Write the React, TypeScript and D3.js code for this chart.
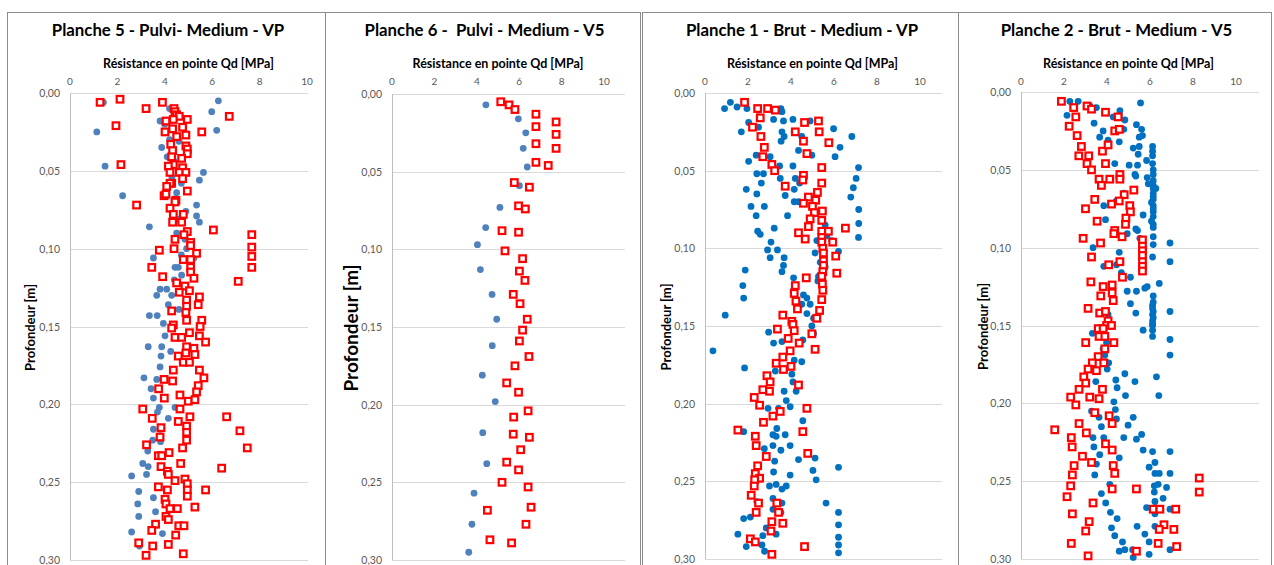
import * as d3 from 'd3';

// [Qd MPa, depth m]
const p5Blue: [number, number][] = [
  [1.41, 0.006], [6.26, 0.005], [5.98, 0.012], [1.13, 0.025], [6.19, 0.024], [3.8, 0.018], [3.87, 0.035],
  [1.48, 0.047], [5.63, 0.051], [5.46, 0.056], [2.22, 0.066], [5.34, 0.072], [5.34, 0.079], [5.46, 0.083],
  [3.35, 0.086], [4.5, 0.064], [4.89, 0.076], [4.92, 0.1], [3.52, 0.106], [4.43, 0.112], [4.57, 0.112],
  [4.71, 0.117], [3.8, 0.126], [4.08, 0.126], [3.66, 0.13], [4.29, 0.13], [4.15, 0.136], [3.35, 0.143],
  [3.68, 0.143], [3.94, 0.148], [5.23, 0.106], [4.85, 0.094], [4.2, 0.03], [4.6, 0.031], [4.1, 0.041],
  [4.4, 0.044], [4.3, 0.054], [4.7, 0.058], [4.4, 0.068], [4.6, 0.081], [4.5, 0.09], [4.7, 0.104],
  [4.4, 0.12], [4.6, 0.139], [4.2, 0.01], [4.5, 0.014], [4.0, 0.02],
  [4.01, 0.156], [3.3, 0.163], [3.87, 0.163], [4.25, 0.166], [3.84, 0.169], [3.8, 0.176], [3.12, 0.183],
  [3.66, 0.184], [3.42, 0.19], [3.52, 0.196], [3.77, 0.202], [3.69, 0.205], [4.43, 0.202], [4.15, 0.209],
  [3.52, 0.216], [3.8, 0.216], [3.49, 0.223], [3.82, 0.224], [3.28, 0.23], [3.07, 0.238], [3.3, 0.24],
  [2.6, 0.246], [3.23, 0.245], [2.9, 0.256], [3.52, 0.26], [2.86, 0.264], [3.61, 0.269], [2.9, 0.272],
  [2.6, 0.282], [3.9, 0.283], [2.93, 0.291], [3.23, 0.297],
];

const p5Red: [number, number][] = [
  [1.27, 0.006], [2.11, 0.004], [3.21, 0.01], [3.9, 0.006], [4.39, 0.01], [4.43, 0.012], [4.5, 0.014],
  [4.61, 0.015], [4.36, 0.017], [4.95, 0.017], [4.05, 0.018], [6.72, 0.015], [1.94, 0.021], [4.33, 0.023],
  [4.75, 0.022], [5.56, 0.025], [4.01, 0.025], [4.89, 0.027], [4.5, 0.028], [4.25, 0.033], [4.89, 0.034],
  [4.95, 0.036], [4.95, 0.039], [4.33, 0.037], [4.29, 0.041], [4.71, 0.042], [4.36, 0.046], [4.75, 0.048],
  [4.15, 0.047], [2.15, 0.046], [4.22, 0.051], [4.61, 0.051], [4.89, 0.051], [4.75, 0.055], [4.29, 0.058],
  [4.22, 0.058], [4.08, 0.06], [4.95, 0.063], [3.97, 0.066], [4.05, 0.065], [2.81, 0.072], [4.47, 0.069],
  [4.43, 0.07], [4.22, 0.074], [4.36, 0.078], [4.78, 0.078], [4.33, 0.083], [4.71, 0.083], [6.05, 0.088],
  [4.95, 0.089], [4.81, 0.091], [4.43, 0.094], [5.09, 0.096], [5.09, 0.098], [7.67, 0.091], [7.67, 0.099],
  [7.67, 0.105], [7.67, 0.112], [3.77, 0.101], [4.39, 0.1], [5.34, 0.103], [4.78, 0.107], [5.09, 0.107],
  [5.09, 0.112], [3.45, 0.112], [5.09, 0.115], [5.23, 0.119], [3.91, 0.118], [7.1, 0.121], [4.5, 0.122],
  [4.85, 0.124], [4.61, 0.128], [5.04, 0.127], [5.46, 0.131], [4.92, 0.133], [5.41, 0.136], [4.92, 0.137],
  [4.29, 0.14], [4.89, 0.141], [4.92, 0.146], [5.56, 0.146], [4.36, 0.149],
  [4.29, 0.151], [5.49, 0.15], [5.04, 0.154], [5.46, 0.156], [4.43, 0.157], [4.71, 0.157], [5.72, 0.16],
  [4.92, 0.163], [5.23, 0.164], [4.89, 0.167], [5.27, 0.168], [4.57, 0.169], [4.78, 0.173], [5.04, 0.173],
  [4.36, 0.178], [5.46, 0.178], [3.97, 0.184], [4.33, 0.185], [5.65, 0.183], [5.41, 0.188], [3.74, 0.19],
  [5.34, 0.192], [4.64, 0.194], [3.98, 0.196], [4.99, 0.198], [5.27, 0.197], [3.07, 0.203], [4.64, 0.203],
  [3.47, 0.209], [5.06, 0.208], [6.61, 0.208], [4.57, 0.211], [4.92, 0.214], [3.84, 0.215], [7.17, 0.217],
  [4.92, 0.218], [3.8, 0.221], [4.92, 0.223], [3.23, 0.226], [4.75, 0.228], [7.48, 0.228], [3.73, 0.233],
  [4.18, 0.231], [3.87, 0.233], [4.67, 0.238], [3.84, 0.24], [6.4, 0.241], [4.11, 0.243], [4.15, 0.245],
  [4.43, 0.249], [4.85, 0.248], [4.95, 0.251], [3.73, 0.253], [4.11, 0.255], [4.95, 0.255], [5.72, 0.255],
  [4.95, 0.259], [4.01, 0.261], [4.05, 0.264], [4.22, 0.267], [4.53, 0.267], [5.27, 0.266], [4.05, 0.272],
  [4.15, 0.274], [4.59, 0.278], [4.81, 0.278], [3.61, 0.277], [3.45, 0.281], [4.46, 0.284], [2.9, 0.289],
  [3.49, 0.291], [4.15, 0.29], [3.21, 0.297], [4.78, 0.296],
];

const p6Blue: [number, number][] = [
  [4.43, 0.007], [5.96, 0.016], [6.31, 0.025], [6.19, 0.035], [6.38, 0.047], [6.01, 0.059], [5.09, 0.073],
  [4.42, 0.086], [4.03, 0.097], [4.17, 0.113], [4.72, 0.129], [4.94, 0.145], [4.73, 0.162], [4.26, 0.181],
  [4.87, 0.198], [4.28, 0.218], [4.47, 0.238], [3.87, 0.257], [3.77, 0.277], [3.62, 0.295],
];

const p6Red: [number, number][] = [
  [5.13, 0.005], [5.52, 0.007], [5.8, 0.01], [6.79, 0.013], [7.74, 0.018], [6.79, 0.021], [7.74, 0.026],
  [6.79, 0.032], [7.74, 0.035], [6.79, 0.044], [7.37, 0.046], [5.77, 0.057], [6.48, 0.06], [5.97, 0.072],
  [6.29, 0.074], [5.19, 0.088], [5.97, 0.089], [5.33, 0.101], [6.16, 0.106], [6.01, 0.114], [6.27, 0.12],
  [5.72, 0.129], [6.04, 0.135], [6.38, 0.145], [6.16, 0.152], [6.01, 0.159], [6.46, 0.169], [5.8, 0.175],
  [5.41, 0.186], [5.97, 0.192], [6.42, 0.204], [5.74, 0.208], [5.72, 0.219], [6.48, 0.221], [6.07, 0.229],
  [5.41, 0.237], [5.97, 0.242], [5.19, 0.25], [6.42, 0.253], [6.56, 0.266], [4.5, 0.268], [6.32, 0.277],
  [4.62, 0.287], [5.64, 0.289],
];

const p1Blue: [number, number][] = [
  [0.91, 0.01], [1.18, 0.006], [1.49, 0.009], [1.95, 0.01], [2.49, 0.011], [2.96, 0.01], [3.53, 0.01],
  [3.58, 0.012], [3.19, 0.017], [3.65, 0.018], [4.09, 0.017], [4.89, 0.018], [2.03, 0.019], [2.49, 0.022],
  [1.69, 0.025], [3.58, 0.025], [4.15, 0.025], [5.98, 0.023], [3.68, 0.028], [3.54, 0.031], [4.5, 0.028],
  [6.83, 0.028], [6.28, 0.035], [4.35, 0.037], [4.97, 0.04], [6.05, 0.041], [2.38, 0.04], [3.03, 0.041],
  [2.03, 0.044], [3.47, 0.047], [4.09, 0.047], [2.41, 0.052], [2.72, 0.052], [3.5, 0.055], [2.62, 0.058],
  [4.2, 0.055], [4.4, 0.058], [7.14, 0.048], [7.03, 0.055], [6.9, 0.061], [1.92, 0.062], [2.41, 0.065],
  [3.73, 0.066], [4.15, 0.062], [6.78, 0.067], [4.15, 0.07], [4.35, 0.07], [2.14, 0.073], [2.76, 0.073],
  [7.15, 0.075], [2.38, 0.079], [3.84, 0.079], [7.15, 0.084], [3.22, 0.087], [2.45, 0.089], [2.57, 0.091],
  [3.07, 0.096], [7.14, 0.093], [5.2, 0.095], [5.59, 0.085], [2.91, 0.101], [3.37, 0.101], [3.03, 0.106],
  [3.68, 0.106], [3.65, 0.111], [3.58, 0.115], [1.87, 0.114], [6.21, 0.102], [5.9, 0.095], [4.12, 0.119],
  [5.25, 0.121], [1.76, 0.124], [1.8, 0.132], [0.94, 0.143], [3.62, 0.143], [4.12, 0.127], [4.58, 0.13],
  [4.74, 0.132], [4.89, 0.136], [4.5, 0.136], [4.74, 0.142], [5.05, 0.145], [5.59, 0.112], [5.36, 0.109],
  [5.28, 0.118], [5.12, 0.103], [5.48, 0.097], [5.67, 0.092],
  [0.37, 0.166], [1.84, 0.177], [2.96, 0.154], [3.19, 0.161], [3.58, 0.16], [4.55, 0.159], [4.97, 0.15],
  [5.05, 0.155], [4.5, 0.173], [4.15, 0.172], [3.27, 0.179], [4.04, 0.181], [4.09, 0.186], [3.68, 0.192],
  [4.24, 0.192], [3.78, 0.198], [3.96, 0.202], [2.93, 0.203], [3.42, 0.203], [4.55, 0.211], [3.34, 0.216],
  [1.8, 0.218], [3.73, 0.22], [3.16, 0.22], [3.31, 0.221], [3.96, 0.227], [3.16, 0.227], [2.76, 0.229],
  [3.53, 0.23], [3.24, 0.237], [4.35, 0.236], [5.12, 0.235], [6.21, 0.241], [3.19, 0.244], [3.96, 0.246],
  [5.02, 0.243], [5.17, 0.249], [3.0, 0.253], [3.31, 0.252], [3.58, 0.255], [3.78, 0.253], [3.16, 0.261],
  [5.63, 0.264], [2.41, 0.263], [6.21, 0.27], [2.11, 0.273], [1.8, 0.274], [2.85, 0.28], [3.31, 0.284],
  [6.21, 0.278], [1.53, 0.284], [2.69, 0.285], [6.21, 0.286], [1.92, 0.292], [2.65, 0.291], [6.21, 0.291],
  [2.77, 0.295], [6.21, 0.296], [3.53, 0.27], [3.16, 0.268], [3.58, 0.264],
];

const p1Red: [number, number][] = [
  [1.84, 0.006], [2.45, 0.01], [2.57, 0.016], [2.91, 0.01], [3.27, 0.011], [2.21, 0.022], [2.6, 0.028],
  [2.76, 0.035], [2.69, 0.041], [3.11, 0.046], [3.24, 0.05], [3.73, 0.06], [4.63, 0.019], [5.28, 0.018],
  [4.2, 0.025], [5.31, 0.025], [4.58, 0.031], [5.76, 0.032], [4.74, 0.039], [5.43, 0.048], [4.58, 0.053],
  [4.55, 0.056], [5.43, 0.058], [5.23, 0.064], [4.81, 0.067], [5.15, 0.069], [4.58, 0.071], [5.0, 0.073],
  [5.09, 0.077], [5.46, 0.076], [4.89, 0.081], [4.81, 0.086], [5.43, 0.082], [4.35, 0.09], [4.66, 0.094],
  [5.43, 0.089], [5.74, 0.089], [6.53, 0.087], [5.94, 0.096], [5.43, 0.093], [5.43, 0.096], [5.48, 0.1],
  [5.51, 0.103], [6.08, 0.105], [5.51, 0.108], [5.51, 0.111], [5.48, 0.115], [6.13, 0.116], [5.43, 0.118],
  [4.71, 0.119], [5.46, 0.123], [4.2, 0.124], [5.48, 0.127], [4.15, 0.129], [5.43, 0.133], [4.23, 0.134],
  [4.3, 0.139], [5.33, 0.14], [3.62, 0.143], [5.2, 0.145], [4.04, 0.147],
  [4.09, 0.149], [4.15, 0.153], [3.37, 0.152], [4.97, 0.155], [3.87, 0.158], [4.38, 0.161], [3.96, 0.166],
  [5.12, 0.165], [3.62, 0.17], [3.31, 0.174], [4.0, 0.176], [3.65, 0.178], [2.88, 0.182], [3.03, 0.186],
  [4.35, 0.188], [2.69, 0.191], [3.0, 0.192], [2.29, 0.196], [2.54, 0.201], [4.74, 0.203], [3.5, 0.205],
  [3.16, 0.208], [2.72, 0.212], [1.53, 0.217], [4.55, 0.218], [2.34, 0.221], [2.38, 0.227], [2.85, 0.234],
  [4.78, 0.232], [2.45, 0.24], [2.34, 0.245], [2.54, 0.248], [2.31, 0.249], [2.29, 0.253], [2.15, 0.259],
  [2.49, 0.264], [3.34, 0.264], [3.42, 0.27], [2.38, 0.27], [3.11, 0.276], [3.62, 0.277], [3.07, 0.282],
  [2.11, 0.287], [2.34, 0.289], [4.63, 0.292], [3.11, 0.297],
];

const p2Blue: [number, number][] = [
  [1.88, 0.006], [2.27, 0.006], [2.66, 0.006], [2.14, 0.015], [3.2, 0.009], [3.51, 0.01], [4.6, 0.012],
  [4.57, 0.015], [4.29, 0.016], [4.83, 0.018], [5.56, 0.007], [3.4, 0.02], [3.82, 0.025], [3.66, 0.029],
  [4.05, 0.031], [4.78, 0.024], [4.57, 0.032], [5.37, 0.021], [5.61, 0.024], [5.65, 0.028], [5.5, 0.029],
  [5.22, 0.036], [5.5, 0.035], [6.12, 0.035], [6.12, 0.038], [6.12, 0.041], [6.12, 0.046], [5.84, 0.044],
  [5.45, 0.04], [5.42, 0.047], [5.03, 0.047], [4.36, 0.046], [6.15, 0.05], [6.15, 0.053], [6.15, 0.057],
  [6.15, 0.06], [6.15, 0.062], [6.27, 0.062], [6.15, 0.065], [6.15, 0.067], [6.15, 0.069], [6.07, 0.071],
  [6.15, 0.073], [6.15, 0.075], [6.15, 0.077], [6.15, 0.08], [6.07, 0.083], [6.15, 0.085], [5.3, 0.053],
  [5.34, 0.054], [5.87, 0.055], [5.92, 0.059], [4.78, 0.065], [4.44, 0.07], [3.85, 0.073], [5.68, 0.079],
  [3.93, 0.082], [4.88, 0.082], [5.42, 0.089], [5.34, 0.088], [4.94, 0.091], [6.15, 0.087], [6.15, 0.093],
  [6.15, 0.098], [6.93, 0.097], [3.35, 0.1], [4.57, 0.103], [6.12, 0.106], [6.93, 0.109], [3.85, 0.112],
  [4.44, 0.111], [4.67, 0.116], [5.09, 0.119], [6.43, 0.123], [5.76, 0.126], [5.87, 0.125], [4.94, 0.128],
  [5.37, 0.128], [6.15, 0.131], [6.15, 0.135], [6.12, 0.137], [6.12, 0.139], [6.15, 0.141], [6.12, 0.143],
  [6.15, 0.145], [6.12, 0.147], [6.12, 0.149], [6.93, 0.141], [5.09, 0.136], [5.34, 0.142], [4.05, 0.143],
  [5.53, 0.094],
  [6.12, 0.15], [6.12, 0.153], [5.68, 0.153], [6.12, 0.157], [6.93, 0.159], [6.93, 0.169], [3.32, 0.155],
  [3.98, 0.161], [3.82, 0.165], [3.9, 0.169], [4.08, 0.174], [4.01, 0.178], [4.83, 0.181], [4.41, 0.185],
  [5.3, 0.186], [6.3, 0.183], [3.48, 0.186], [4.47, 0.19], [4.86, 0.195], [6.41, 0.195], [4.32, 0.199],
  [4.39, 0.204], [3.28, 0.205], [3.63, 0.209], [4.44, 0.21], [5.22, 0.209], [4.98, 0.214], [5.61, 0.22],
  [3.74, 0.215], [3.35, 0.222], [3.85, 0.222], [4.78, 0.222], [5.37, 0.223], [3.39, 0.228], [5.68, 0.23],
  [6.12, 0.231], [3.66, 0.233], [4.57, 0.235], [6.93, 0.231], [3.51, 0.239], [5.96, 0.241], [6.23, 0.238],
  [3.43, 0.246], [6.23, 0.245], [6.43, 0.245], [6.93, 0.245], [4.13, 0.252], [6.38, 0.252], [6.2, 0.253],
  [6.77, 0.254], [3.74, 0.258], [6.2, 0.257], [6.61, 0.261], [3.94, 0.264], [6.23, 0.263], [5.84, 0.267],
  [6.23, 0.267], [6.93, 0.268], [4.16, 0.27], [6.23, 0.271], [4.47, 0.274], [4.36, 0.285], [5.4, 0.279],
  [6.23, 0.279], [4.21, 0.28], [5.76, 0.284], [5.96, 0.289], [4.72, 0.289], [6.93, 0.294], [4.57, 0.295],
  [4.83, 0.294], [5.19, 0.294], [5.22, 0.299], [5.96, 0.297],
];

const p2Red: [number, number][] = [
  [1.88, 0.006], [2.45, 0.01], [2.55, 0.016], [3.07, 0.009], [3.28, 0.011], [3.93, 0.013], [4.52, 0.016],
  [2.24, 0.022], [2.61, 0.028], [2.81, 0.035], [2.69, 0.041], [3.15, 0.041], [3.79, 0.038], [4.05, 0.034],
  [3.07, 0.046], [3.28, 0.05], [3.93, 0.046], [3.63, 0.056], [3.74, 0.06], [4.13, 0.056], [4.6, 0.053],
  [4.6, 0.056], [5.25, 0.063], [4.8, 0.066], [4.57, 0.07], [4.21, 0.072], [3.43, 0.069], [3.0, 0.075],
  [5.06, 0.073], [5.09, 0.077], [3.54, 0.083], [4.88, 0.081], [4.86, 0.085], [4.36, 0.089], [4.32, 0.091],
  [4.7, 0.093], [2.89, 0.094], [3.7, 0.097], [3.28, 0.106], [4.08, 0.111], [4.6, 0.109], [4.72, 0.119],
  [3.25, 0.122], [3.82, 0.125], [4.24, 0.124], [3.71, 0.131], [4.24, 0.129], [4.29, 0.134], [3.12, 0.139],
  [3.66, 0.142], [3.93, 0.141], [4.05, 0.147], [5.65, 0.095], [5.65, 0.099], [5.65, 0.102], [5.65, 0.105],
  [5.65, 0.109], [5.65, 0.112], [5.65, 0.115], [4.36, 0.025], [4.57, 0.024],
  [3.98, 0.15], [4.21, 0.15], [3.59, 0.152], [3.82, 0.152], [3.63, 0.157], [3.9, 0.157], [4.32, 0.161],
  [3.01, 0.161], [3.9, 0.165], [3.59, 0.17], [3.32, 0.174], [3.85, 0.174], [3.12, 0.178], [3.51, 0.179],
  [2.92, 0.183], [3.01, 0.187], [2.7, 0.191], [3.79, 0.191], [2.31, 0.196], [3.2, 0.196], [3.63, 0.197],
  [2.55, 0.201], [3.43, 0.206], [4.1, 0.208], [2.7, 0.213], [4.24, 0.213], [3.04, 0.219], [1.57, 0.217],
  [2.34, 0.222], [2.38, 0.228], [3.93, 0.226], [4.24, 0.23], [2.86, 0.234], [3.28, 0.238], [4.29, 0.24],
  [2.47, 0.24], [4.36, 0.245], [2.39, 0.246], [2.31, 0.253], [4.24, 0.255], [5.37, 0.255], [2.14, 0.26],
  [3.35, 0.264], [2.39, 0.271], [6.15, 0.268], [6.46, 0.268], [7.2, 0.268], [8.29, 0.248], [8.29, 0.257],
  [3.17, 0.276], [3.01, 0.282], [6.65, 0.278], [6.43, 0.281], [7.11, 0.281], [2.34, 0.29], [6.38, 0.29],
  [7.24, 0.292], [3.12, 0.298], [5.37, 0.295],
];

const titles = [
  'Planche 5 - Pulvi- Medium - VP',
  'Planche 6 -  Pulvi - Medium - V5',
  'Planche 1 - Brut - Medium - VP',
  'Planche 2 - Brut - Medium - V5',
];
const xTicks = [0, 2, 4, 6, 8, 10];
const yTicks = [0, 0.05, 0.1, 0.15, 0.2, 0.25, 0.3];
const xTitle = 'Résistance en pointe Qd [MPa]';
const yTitle = 'Profondeur [m]';

const panels = [
  { title: titles[0], blue: p5Blue, red: p5Red, dot: '#4f81bd', box: [7, 325], x0: 70, x10: 307, right: 308, top: 93, bottom: 560, yLabelX: 30, yLabelSize: 13 },
  { title: titles[1], blue: p6Blue, red: p6Red, dot: '#4f81bd', box: [325, 640], x0: 392, x10: 604, right: 625, top: 94, bottom: 560, yLabelX: 350, yLabelSize: 19 },
  { title: titles[2], blue: p1Blue, red: p1Red, dot: '#0070c0', box: [642, 958], x0: 705, x10: 920, right: 942, top: 93, bottom: 559, yLabelX: 666, yLabelSize: 13 },
  { title: titles[3], blue: p2Blue, red: p2Red, dot: '#0070c0', box: [958, 1271], x0: 1021, x10: 1236, right: 1259, top: 92, bottom: 559, yLabelX: 983, yLabelSize: 13 },
];

const font = 'Lato, "Open Sans", sans-serif';
const fmt = (v: number) => v.toFixed(2).replace('.', ',');

function Panel({ p }: { p: (typeof panels)[number] }) {
  const x = d3.scaleLinear().domain([0, 10]).range([p.x0, p.x10]);
  const y = d3.scaleLinear().domain([0, 0.3]).range([p.top, p.bottom]);
  const cx = (p.box[0] + p.box[1]) / 2;
  const sq = 6.6;
  return (
    <g>
      <rect x={p.box[0] + 0.5} y={12.5} width={p.box[1] - p.box[0]} height={600} fill="#fff" stroke="#8c8c8c" />
      <text x={cx + 2} y={36} textAnchor="middle" fontSize={16.8} fontWeight="bold" fill="#000" style={{ whiteSpace: 'pre' }}>
        {p.title}
      </text>
      <text x={(p.x0 + p.x10) / 2} y={68} textAnchor="middle" fontSize={12.5} fontWeight="bold" fill="#000">{xTitle}</text>
      {xTicks.map((t) => (
        <text key={t} x={x(t)} y={85} textAnchor="middle" fontSize={10} fill="#595959">{t}</text>
      ))}
      {yTicks.map((t) => (
        <g key={t}>
          <line x1={p.x0} x2={p.right} y1={Math.round(y(t)) + 0.5} y2={Math.round(y(t)) + 0.5} stroke="#d9d9d9" />
          <text x={p.x0 - 10} y={y(t) + 4} textAnchor="end" fontSize={10.5} fill="#595959">{fmt(t)}</text>
        </g>
      ))}
      <line x1={p.x0 + 0.5} x2={p.x0 + 0.5} y1={p.top} y2={p.bottom} stroke="#bfbfbf" />
      <text
        transform={`translate(${p.yLabelX},${(p.top + p.bottom) / 2 + 1}) rotate(-90)`}
        textAnchor="middle"
        dominantBaseline="central"
        fontSize={p.yLabelSize}
        fontWeight="bold"
        fill="#000"
      >
        {yTitle}
      </text>
      {p.blue.map(([v, d], i) => (
        <circle key={'b' + i} cx={x(v)} cy={y(d)} r={3.4} fill={p.dot} />
      ))}
      {p.red.map(([v, d], i) => (
        <rect key={'r' + i} x={x(v) - sq / 2} y={y(d) - sq / 2} width={sq} height={sq} fill="#fff" stroke="#ff0000" strokeWidth={2.2} />
      ))}
    </g>
  );
}

export default function App() {
  return (
    <div style={{ position: 'absolute', left: 0, top: 0, background: '#fff' }}>
      <svg width={1274} height={565} style={{ display: 'block', fontFamily: font }}>
        <rect width={1274} height={565} fill="#fff" />
        {panels.map((p, i) => (
          <Panel key={i} p={p} />
        ))}
      </svg>
    </div>
  );
}
